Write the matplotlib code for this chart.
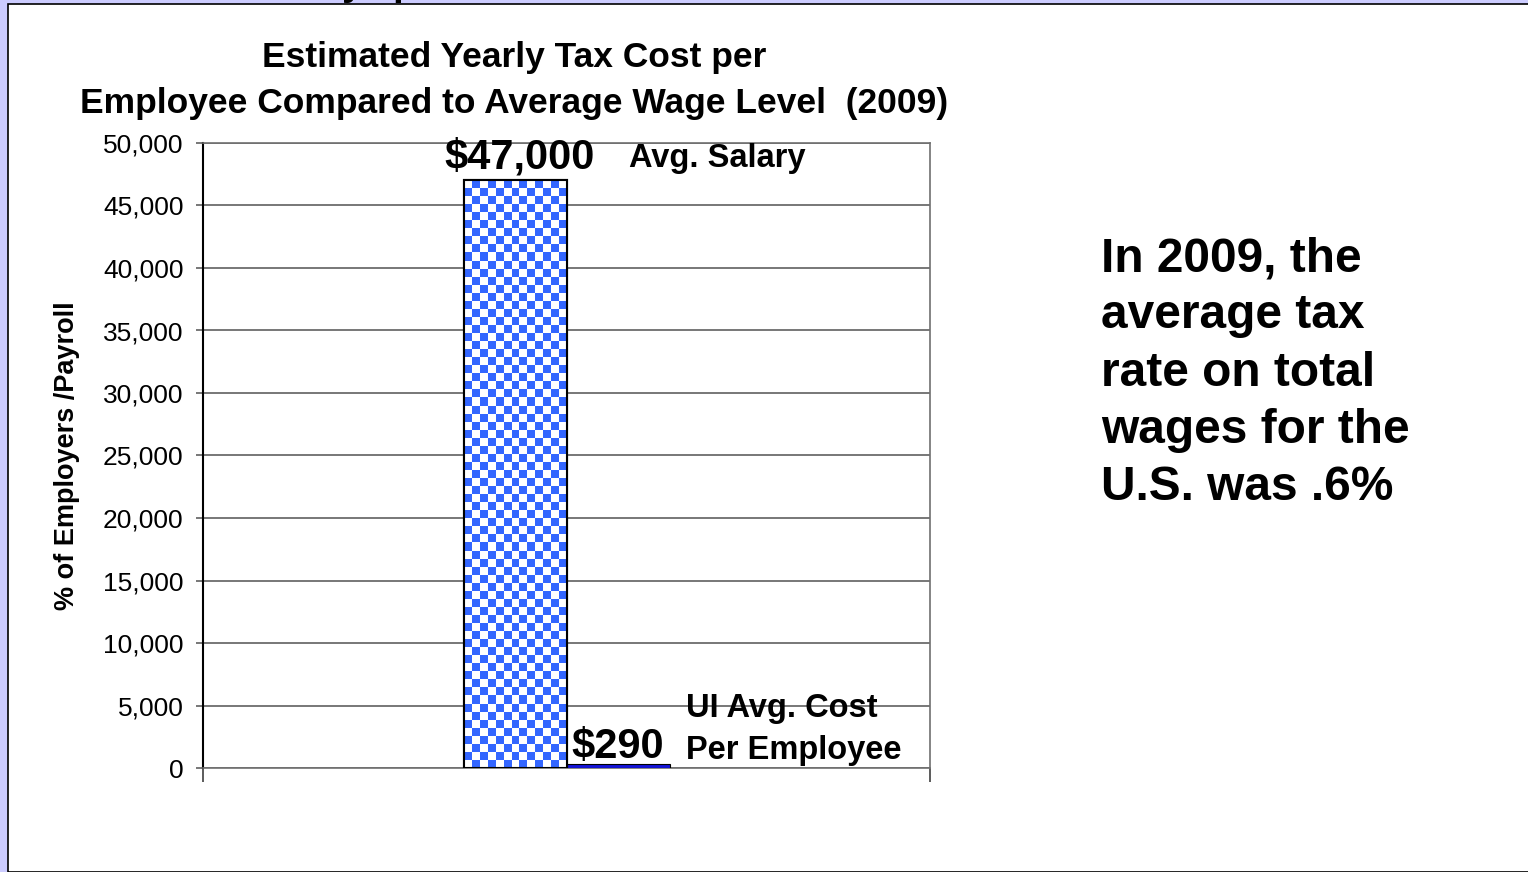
import numpy as np
import matplotlib.pyplot as plt
from matplotlib.patches import Rectangle
from matplotlib.colors import ListedColormap

plt.rcParams['font.family'] = ['Liberation Sans', 'DejaVu Sans']

series = ['Avg. Salary', 'UI Avg. Cost Per Employee']
values = [47000, 290]
value_labels = ['$47,000', '$290']
yticks = np.arange(0, 50001, 5000)

note_lines = ['In 2009, the', 'average tax', 'rate on total', 'wages for the', 'U.S. was .6%']

W, H = 1528, 872
fig = plt.figure(figsize=(W / 100, H / 100), dpi=100, facecolor='#CCCCFF')

# white slide panel with its black edge, lavender strip at top and left
panel = Rectangle((8 / W, 0), 1, 1 - 4 / H, transform=fig.transFigure,
                  facecolor='white', edgecolor='black', linewidth=1.2, zorder=-1)
fig.patches.append(panel)
# bits of the heading above, cut off by the panel
fig.text(342 / W, 1 + 5 / H, 'y', fontsize=28, fontweight='bold', va='baseline', zorder=-2)
fig.text(392 / W, 1 + 5 / H, 'p', fontsize=28, fontweight='bold', va='baseline', zorder=-2)

ax = fig.add_axes([203 / W, 1 - 768 / H, 727 / W, 625 / H])

width = 103 / 727
xs = [-width / 2, width / 2]

# checkered bar for the salary
b1 = ax.bar(xs[0], values[0], width=width, facecolor='white', edgecolor='black',
            linewidth=1.5, zorder=3)[0]
ncol = 13
nrow = int(round(587 / 8))
checker = (np.add.outer(np.arange(nrow), np.arange(ncol)) % 2).astype(float)
ax.imshow(checker, cmap=ListedColormap(['white', '#3366FF']), aspect='auto',
          interpolation='nearest',
          extent=(b1.get_x(), b1.get_x() + width, 0, values[0]), zorder=3.5)
ax.bar(xs[0], values[0], width=width, facecolor='none', edgecolor='black',
       linewidth=1.5, zorder=4)
ax.bar(xs[1], values[1], width=width, facecolor='#1414D8', edgecolor='black',
       linewidth=0.8, zorder=3)
ax.set_xlim(-0.5, 0.5)
ax.set_ylim(0, 50000)

ax.annotate(value_labels[0], (xs[0], values[0]), xytext=(3, 2), textcoords='offset points',
            ha='center', va='bottom', fontsize=30, fontweight='bold', zorder=6)
ax.annotate(value_labels[1], (xs[1], values[1]), xytext=(0, -2), textcoords='offset points',
            ha='center', va='bottom', fontsize=30, fontweight='bold', zorder=6)

ax.text((629 - 203) / 727, (768 - 158) / 625, 'Avg. Salary', transform=ax.transAxes,
        ha='left', va='center', fontsize=23.5, fontweight='bold')
ax.text((686 - 203) / 727, (768 - 708) / 625, 'UI Avg. Cost', transform=ax.transAxes,
        ha='left', va='center', fontsize=23.5, fontweight='bold')
ax.text((686 - 203) / 727, (768 - 750) / 625, 'Per Employee', transform=ax.transAxes,
        ha='left', va='center', fontsize=23.5, fontweight='bold')

ax.set_yticks(yticks)
ax.set_yticklabels([f'{v:,}' for v in yticks], fontsize=19)
ax.yaxis.grid(True, color='#606060', linewidth=1.2)
ax.set_axisbelow(True)
ax.tick_params(axis='y', length=5, width=1.2, color='#606060', pad=9)
ax.set_xticks([-0.5, 0.5])
ax.set_xticklabels([])
ax.tick_params(axis='x', length=10, width=1.2, color='#404040')
ax.spines['left'].set_color('black')
ax.spines['left'].set_linewidth(1.5)
for s in ['right', 'top', 'bottom']:
    ax.spines[s].set_color('#707070')
    ax.spines[s].set_linewidth(1.2)

ax.set_ylabel('% of Employers /Payroll', fontsize=19.5, fontweight='bold')
ax.yaxis.set_label_coords((80 - 203) / 727, (768 - 456) / 625)

fig.text(514 / W, 1 - 58 / H, 'Estimated Yearly Tax Cost per', ha='center', va='center',
         fontsize=25.5, fontweight='bold')
fig.text(514 / W, 1 - 103 / H, 'Employee Compared to Average Wage Level  (2009)',
         ha='center', va='center', fontsize=25.5, fontweight='bold')

for i, line in enumerate(note_lines):
    fig.text(1101 / W, 1 - (259 + 57 * i) / H, line, ha='left', va='center',
             fontsize=34.5, fontweight='bold')

fig.savefig('out.png', dpi=100, facecolor=fig.get_facecolor())
